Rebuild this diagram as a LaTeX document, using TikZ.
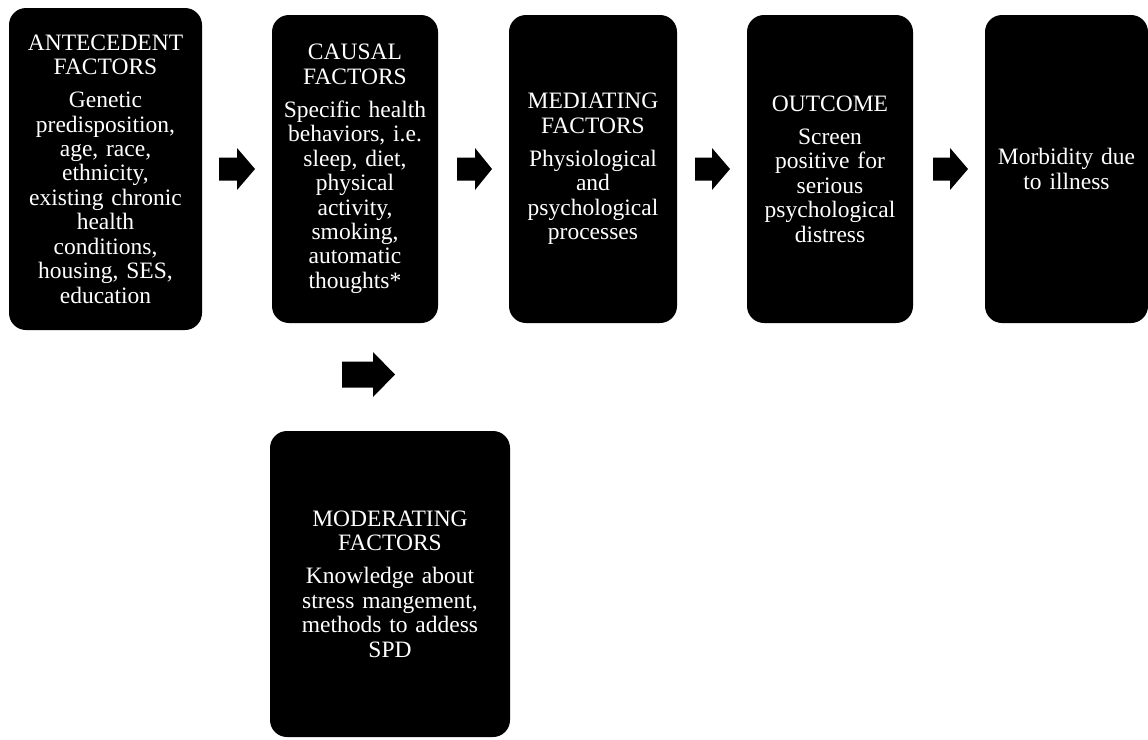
\documentclass[tikz,border=0pt]{standalone}
\usepackage{fontspec}
\setmainfont{Liberation Serif}
\newcommand\ttl{\fontsize{23.5}{24.6}\selectfont}
\newcommand\bdy{\fontsize{23.5}{24.4}\selectfont}
\begin{document}
\begin{tikzpicture}[x=1pt,y=-1pt,
  box/.style={fill=black, draw=none, rounded corners=17pt, text=white, align=center,
    font=\ttl, inner sep=0pt},
  blockarrow/.style={fill=black}]
\useasboundingbox (0,0) rectangle (1148,739);
% boxes
\node[box, minimum width=193pt, minimum height=322pt, text width=190pt] (ante) at (105.5,169)
  {ANTECEDENT\\FACTORS\\[8.5pt]\bdy Genetic\\predisposition,\\age, race,\\ethnicity,\\existing chronic\\health\\conditions,\\housing, SES,\\education};
\node[box, minimum width=166pt, minimum height=308pt, text width=166pt] (causal) at (355,169)
  {CAUSAL\\FACTORS\\[8.5pt]\bdy Specific health\\behaviors, i.e.\\sleep, diet,\\physical\\activity,\\smoking,\\automatic\\thoughts*};
\node[box, minimum width=168pt, minimum height=308pt, text width=168pt] (med) at (593,169)
  {MEDIATING\\FACTORS\\[8.5pt]\bdy Physiological\\and\\psychological\\processes};
\node[box, minimum width=166pt, minimum height=308pt, text width=164pt] (out) at (830,169)
  {OUTCOME\\[8.5pt]\bdy Screen\\positive for\\serious\\psychological\\distress};
\node[box, minimum width=163pt, minimum height=308pt, text width=160pt] (morb) at (1066.5,169)
  {\bdy Morbidity due\\to illness};
\node[box, minimum width=240pt, minimum height=306pt, text width=236pt] (mod) at (390,584)
  {MODERATING\\FACTORS\\[8.5pt]\bdy Knowledge about\\stress mangement,\\methods to addess\\SPD};
% block arrows
\newcommand\blockarr[7]{% x0, xbase, xtip, yc, shafthalf, headhalf, name
  \coordinate (#7) at (#3,#4);
  \fill[blockarrow] (#1,#4-#5) -- (#2,#4-#5) -- (#2,#4-#6) -- (#7) -- (#2,#4+#6) -- (#2,#4+#5) -- (#1,#4+#5) -- cycle;}
\blockarr{219}{237}{255}{169}{11.5}{21}{a1}
\blockarr{457}{475}{492}{169}{11.5}{21}{a2}
\blockarr{695}{712}{730}{169}{11.5}{21}{a3}
\blockarr{933}{950}{968}{169}{11.5}{21}{a4}
\blockarr{342}{373}{395}{374.5}{13}{22.5}{a5}
\end{tikzpicture}
\end{document}
